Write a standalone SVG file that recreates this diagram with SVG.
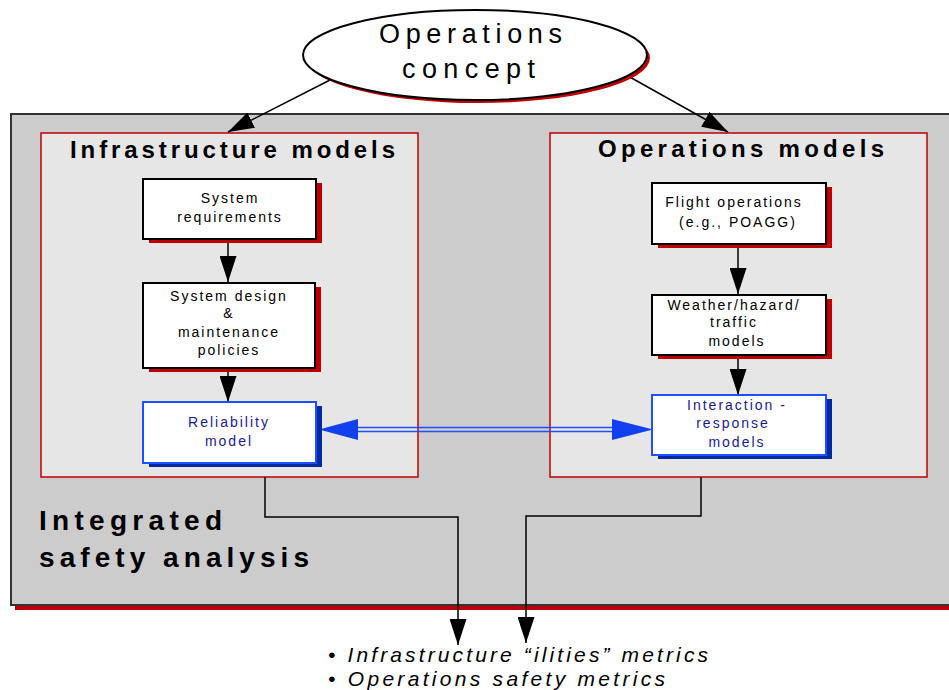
<svg xmlns="http://www.w3.org/2000/svg" width="949" height="690" viewBox="0 0 949 690">
<style>
text{font-family:"Liberation Sans",Arial,sans-serif;}
.bt{font-size:14px;letter-spacing:2px;text-anchor:middle;fill:#000;}
.blu{fill:#1a1a99;}
.ttl{font-size:24px;font-weight:bold;fill:#000;}
.big{font-size:28px;font-weight:bold;fill:#000;}
.ell{font-size:27px;fill:#000;}
.met{font-size:21px;font-style:italic;fill:#000;}
.wb{fill:#fff;stroke:#000;stroke-width:2;}
.rs{fill:#c00000;}
.bb{fill:#fff;stroke:#1f50ff;stroke-width:2;}
.bs{fill:#0028a0;}
.ln{fill:none;stroke:#000;stroke-width:1.5;}
.rb{fill:#e6e6e6;stroke:#c00000;stroke-width:1.5;}
</style>
<defs>
<marker id="ah" markerUnits="userSpaceOnUse" markerWidth="26" markerHeight="17" refX="26" refY="8.5" orient="auto">
<path d="M0,0 L26,8.5 L0,17 z" fill="#000"/>
</marker>
</defs>
<g id="integrated-safety-analysis">
<rect x="15" y="119" width="950" height="491" class="rs"/>
<rect x="11" y="114" width="950" height="491" fill="#cccccc" stroke="#333" stroke-width="2"/>
<text class="big" x="39" y="530" textLength="183" lengthAdjust="spacing">Integrated</text>
<text class="big" x="39" y="567" textLength="270" lengthAdjust="spacing">safety analysis</text>
</g>
<g id="infrastructure-models">
<rect x="41" y="133" width="377" height="344" class="rb"/>
<text class="ttl" x="70" y="158" textLength="325" lengthAdjust="spacing">Infrastructure models</text>
</g>
<g id="operations-models">
<rect x="550" y="133" width="377" height="344" class="rb"/>
<text class="ttl" x="598" y="157" textLength="286" lengthAdjust="spacing">Operations models</text>
</g>
<g id="connectors">
<line x1="330" y1="80" x2="228" y2="132" class="ln" marker-end="url(#ah)"/>
<line x1="628" y1="76" x2="728" y2="132" class="ln" marker-end="url(#ah)"/>
<line x1="228" y1="243" x2="228" y2="282" class="ln" marker-end="url(#ah)"/>
<line x1="228" y1="371" x2="228" y2="402" class="ln" marker-end="url(#ah)"/>
<line x1="738" y1="248" x2="738" y2="294" class="ln" marker-end="url(#ah)"/>
<line x1="738" y1="359" x2="738" y2="395" class="ln" marker-end="url(#ah)"/>
<line x1="355" y1="427.5" x2="615" y2="427.5" stroke="#1f50ff" stroke-width="1.5"/>
<line x1="355" y1="431.5" x2="615" y2="431.5" stroke="#1f50ff" stroke-width="1.5"/>
<polygon points="319,429.5 358,419 358,440" fill="#1040f0"/>
<polygon points="653,429.5 612,419 612,440" fill="#1040f0"/>
<polyline points="265,477 265,517 458,517 458,645" class="ln" marker-end="url(#ah)"/>
<polyline points="701,477 701,516 526,516 526,643" class="ln" marker-end="url(#ah)"/>
</g>
<g id="operations-concept">
<ellipse cx="478" cy="58" rx="172" ry="45" class="rs"/>
<ellipse cx="475" cy="55" rx="172" ry="45" fill="#fff" stroke="#000" stroke-width="2"/>
<text class="ell" x="379" y="43" textLength="183" lengthAdjust="spacing">Operations</text>
<text class="ell" x="402" y="78" textLength="133" lengthAdjust="spacing">concept</text>
</g>
<g id="system-requirements">
<rect x="149" y="183" width="173" height="60" class="rs"/>
<rect x="143" y="179" width="173" height="60" class="wb"/>
<text class="bt" x="230" y="203">System</text>
<text class="bt" x="230" y="222">requirements</text>
</g>
<g id="system-design">
<rect x="149" y="287" width="172" height="85" class="rs"/>
<rect x="143" y="283" width="172" height="85" class="wb"/>
<text class="bt" x="229" y="301">System design</text>
<text class="bt" x="229" y="318">&amp;</text>
<text class="bt" x="229" y="337">maintenance</text>
<text class="bt" x="229" y="355">policies</text>
</g>
<g id="reliability-model">
<rect x="149" y="406" width="173" height="61" class="bs"/>
<rect x="143" y="402" width="173" height="61" class="bb"/>
<text class="bt blu" x="229" y="427">Reliability</text>
<text class="bt blu" x="229" y="446">model</text>
</g>
<g id="flight-operations">
<rect x="658" y="187" width="174" height="61" class="rs"/>
<rect x="652" y="183" width="174" height="61" class="wb"/>
<text class="bt" x="734" y="207">Flight operations</text>
<text class="bt" x="738" y="227">(e.g., POAGG)</text>
</g>
<g id="weather-hazard-traffic-models">
<rect x="658" y="299" width="174" height="60" class="rs"/>
<rect x="652" y="295" width="174" height="60" class="wb"/>
<text class="bt" x="734" y="310">Weather/hazard/</text>
<text class="bt" x="734" y="327">traffic</text>
<text class="bt" x="737" y="346">models</text>
</g>
<g id="interaction-response-models">
<rect x="658" y="399" width="174" height="60" class="bs"/>
<rect x="652" y="395" width="174" height="60" class="bb"/>
<text class="bt blu" x="737" y="410">Interaction -</text>
<text class="bt blu" x="733" y="428">response</text>
<text class="bt blu" x="737" y="447">models</text>
</g>
<g id="metrics">
<text class="met" x="328" y="662" textLength="380" lengthAdjust="spacing">• Infrastructure “ilities” metrics</text>
<text class="met" x="328" y="686" textLength="337" lengthAdjust="spacing">• Operations safety metrics</text>
</g>
</svg>
